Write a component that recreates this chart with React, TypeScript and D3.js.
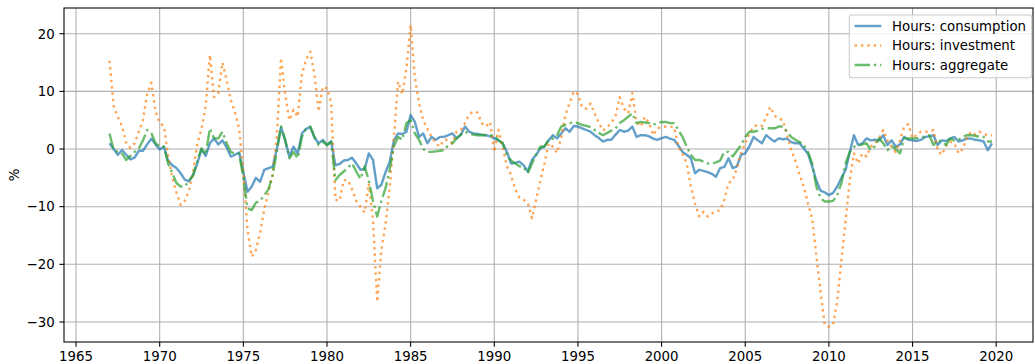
import { useEffect, useRef } from 'react'
import * as d3 from 'd3'

// quarterly, 1967Q1 .. 2019Q4 (4 values per row = one year)
const consumption = [
  1.0, 0.0, -1.0, -0.2,
  -1.0, -1.8, -1.5, -0.3,
  -0.3, 0.8, 1.8, 0.8,
  -0.1, 0.4, -2.0, -2.8,
  -3.3, -4.2, -5.3, -5.6,
  -4.5, -2.5, 0.0, -1.2,
  1.0, 1.85, 0.8, 1.5,
  0.3, -1.3, -1.0, -0.6,
  -4.0, -7.4, -6.5, -5.0,
  -5.7, -3.6, -3.3, -3.1,
  0.0, 3.8, 1.5, -1.3,
  0.4, -0.8, 2.7, 3.5,
  3.8, 2.0, 1.0, 1.6,
  0.7, 1.3, -2.8, -2.6,
  -2.0, -1.9, -1.5, -2.5,
  -3.6, -3.5, -0.75, -1.9,
  -6.8, -6.2, -4.0, -2.2,
  1.5, 2.7, 2.6, 3.0,
  5.9, 4.7, 2.1, 2.7,
  1.0, 2.1, 1.6, 2.1,
  2.1, 2.4, 2.7, 1.85,
  2.5, 3.9, 3.0, 2.7,
  2.6, 2.5, 2.4, 2.2,
  1.85, 1.5, 1.0, -0.5,
  -2.5, -2.4, -2.2, -2.8,
  -3.9, -1.9, -1.0, 0.1,
  0.5, 1.5, 2.4, 1.85,
  2.7, 3.6, 3.0, 4.0,
  3.9, 3.6, 3.3, 3.0,
  2.4, 1.9, 1.3, 1.6,
  1.6, 2.5, 3.3, 3.0,
  3.2, 3.9, 2.1, 2.4,
  2.4, 2.2, 1.8, 1.6,
  1.9, 2.1, 1.8, 1.6,
  0.6, -0.5, -1.0, -1.6,
  -4.2, -3.6, -3.8, -4.0,
  -4.3, -4.8, -3.3, -3.1,
  -1.6, -3.3, -3.0, -1.0,
  -0.75, 0.5, 2.1, 1.5,
  1.0, 2.4, 1.8, 1.3,
  1.85, 1.7, 1.8, 1.2,
  1.0, 1.0, 0.1, -0.8,
  -3.0, -5.5, -7.2, -7.5,
  -8.0, -7.6, -6.5, -5.0,
  -3.6, -0.5, 2.4, 0.7,
  1.0, 1.85, 1.5, 1.6,
  1.5, 2.4, 0.7, 1.5,
  0.4, 0.8, 2.1, 1.6,
  1.5, 1.4, 1.6, 2.1,
  2.2, 2.4, 0.7, 1.5,
  1.4, 1.8, 2.1, 1.3,
  1.5, 1.85, 1.8, 1.6,
  1.5, 1.3, -0.2, 1.0,
]

const investment = [
  15.3, 7.5, 5.5, 4.0,
  1.0, 0.2, 1.0, 3.0,
  5.0, 9.5, 11.5, 6.5,
  4.5, 4.0, -1.0, -5.0,
  -7.5, -9.7, -9.0, -7.2,
  -4.0, 1.0, 3.5, 7.5,
  16.3, 9.0, 9.7, 15.0,
  12.0, 8.5, 6.3, 3.5,
  -4.0, -14.0, -18.7, -17.5,
  -14.5, -10.5, -7.5, -4.5,
  2.0, 15.8, 9.5, 5.0,
  6.8, 5.6, 13.0, 15.5,
  16.9, 13.0, 6.5, 10.8,
  10.5, 8.0, -8.8, -9.0,
  -5.4, -5.4, -7.0, -9.0,
  -10.0, -11.0, -6.0, -12.3,
  -26.5, -17.5, -13.0, -6.5,
  2.0, 11.7, 9.5, 14.0,
  21.5, 12.5, 8.0, 5.0,
  3.5, 2.1, 1.0, 0.4,
  1.6, 1.6, 1.0, 3.0,
  3.3, 4.5, 6.0, 6.5,
  6.3, 4.5, 3.9, 4.7,
  -0.5, 3.3, 0.4, -3.0,
  -4.5, -7.0, -8.4, -8.8,
  -9.3, -12.0, -8.8, -5.5,
  -2.5, 1.0, 0.4, -0.7,
  2.0, 5.9, 8.0, 10.0,
  9.5, 7.2, 7.0, 7.9,
  6.2, 4.5, 3.2, 3.8,
  4.5, 5.8, 9.0, 7.0,
  6.2, 9.7, 4.7, 3.9,
  5.6, 4.5, 2.4, 3.6,
  3.8, 3.9, 3.9, 3.8,
  0.5, -0.8, -2.5, -6.5,
  -9.5, -11.7, -10.9, -11.7,
  -11.2, -10.8, -10.6, -8.8,
  -5.9, -5.4, -3.3, -0.75,
  1.0, 2.7, 3.9, 4.2,
  4.0, 5.5, 7.3, 5.8,
  5.3, 5.0, 2.5, -0.2,
  -2.0, -4.5, -6.5, -9.5,
  -12.0, -18.5, -24.7, -30.5,
  -30.8, -30.5, -26.3, -19.3,
  -12.3, -5.4, -0.75, -2.5,
  -0.75, -1.3, 0.4, 1.0,
  1.85, 3.3, 1.5, 0.4,
  -0.5, 1.5, 3.9, 4.3,
  1.85, 2.5, 3.0, 3.0,
  3.0, 3.3, -0.2, -1.0,
  0.5, 1.3, 1.0, -0.75,
  0.0, 2.0, 3.0, 2.5,
  3.0, 2.6, 2.4, 2.4,
]

const aggregate = [
  2.7, -0.2, -0.5, -0.8,
  -1.9, -1.2, -0.5, 0.1,
  1.5, 3.3, 2.8, 1.0,
  0.5, 0.4, -2.5, -4.2,
  -5.9, -6.5, -6.5, -5.5,
  -4.5, -2.0, 0.1, -1.0,
  3.6, 1.85, 1.85, 3.0,
  1.0, -0.5, -0.8, -0.8,
  -5.0, -10.3, -10.6, -9.3,
  -9.0, -8.0, -7.0, -4.5,
  -0.5, 3.9, 1.6, -1.6,
  -0.5, -1.6, 2.1, 3.5,
  3.9, 2.1, 0.7, 1.3,
  0.7, 1.3, -5.4, -4.5,
  -3.9, -3.2, -2.5, -3.9,
  -5.2, -3.0, -5.5, -9.0,
  -11.7, -9.0, -6.8, -3.5,
  0.5, 2.1, 1.6, 4.5,
  5.0, 2.7, 1.6, 0.0,
  -0.5, -0.5, -0.4, -0.3,
  -0.2, 0.7, 1.0, 1.85,
  2.5, 3.0, 2.7, 2.5,
  2.4, 2.4, 2.4, 2.4,
  2.4, 1.5, 1.0, -1.0,
  -2.0, -2.5, -3.0, -3.1,
  -4.2, -2.5, -1.0, 0.4,
  0.4, 1.6, 1.8, 2.4,
  3.9, 4.2, 4.5, 4.6,
  4.5, 4.2, 4.0, 3.8,
  3.3, 2.8, 2.4, 2.8,
  3.2, 3.6, 4.5, 5.0,
  5.6, 6.2, 4.5, 4.7,
  4.6, 4.5, 4.2, 4.5,
  4.7, 4.7, 4.5, 4.5,
  3.3, 2.1, 0.4, -1.0,
  -1.9, -1.9, -2.2, -2.5,
  -2.5, -2.3, -2.0, -0.5,
  -0.5, -1.3, -0.3, 0.7,
  2.1, 3.0, 3.0, 3.2,
  3.5, 3.6, 3.6, 3.6,
  3.9, 3.9, 3.0, 2.1,
  1.6, 1.2, 0.7, -0.5,
  -2.5, -6.5, -8.5, -9.1,
  -9.1, -9.0, -8.0, -5.9,
  -2.5, -0.5, 0.4, 0.6,
  0.8, 1.0, -0.2, 0.5,
  1.85, 1.0, -0.2, 0.5,
  0.0, -0.75, 1.85, 1.85,
  1.85, 1.85, 2.1, 2.1,
  2.4, 0.7, 1.5, 1.3,
  0.7, 1.85, 1.5, 1.6,
  2.1, 2.4, 2.4, 2.3,
  2.1, 2.1, 1.3, 1.3,
]

const startYear = 1967
const xTicks = [1965, 1970, 1975, 1980, 1985, 1990, 1995, 2000, 2005, 2010, 2015, 2020]
const yTicks = [-30, -20, -10, 0, 10, 20]
const labels = ['Hours: consumption', 'Hours: investment', 'Hours: aggregate']
const colors = ['#1f77b4', '#ff7f0e', '#2ca02c']

export default function App() {
  const svgRef = useRef<SVGSVGElement>(null)

  useEffect(() => {
    const width = 1035
    const height = 364
    const plot = { left: 64, right: 1033, top: 8, bottom: 342 }
    const font = 'DejaVu Sans, sans-serif'
    const fs = 13.33
    const lw = 2.4
    const dashes = [null, `${lw} ${lw * 1.65}`, `${lw * 6.4} ${lw * 1.6} ${lw} ${lw * 1.6}`]

    const svg = d3.select(svgRef.current)
      .attr('width', width)
      .attr('height', height)
    svg.selectAll('*').remove()

    const x = d3.scaleLinear().domain([1964.28, 2022.2]).range([plot.left, plot.right])
    const y = d3.scaleLinear().domain([-33.47, 24.46]).range([plot.bottom, plot.top])

    const g = svg.append('g')

    // grid
    g.selectAll('.gx').data(xTicks).join('line')
      .attr('x1', d => x(d)).attr('x2', d => x(d))
      .attr('y1', plot.top).attr('y2', plot.bottom)
      .attr('stroke', '#b0b0b0').attr('stroke-width', 1.07)
    g.selectAll('.gy').data(yTicks).join('line')
      .attr('y1', d => y(d)).attr('y2', d => y(d))
      .attr('x1', plot.left).attr('x2', plot.right)
      .attr('stroke', '#b0b0b0').attr('stroke-width', 1.07)

    // series
    const series = [consumption, investment, aggregate]
    const line = d3.line<number>()
      .x((_, i) => x(startYear + i / 4))
      .y(d => y(d))

    series.forEach((values, k) => {
      g.append('path')
        .datum(values)
        .attr('d', line)
        .attr('fill', 'none')
        .attr('stroke', colors[k])
        .attr('stroke-opacity', 0.7)
        .attr('stroke-width', lw)
        .attr('stroke-linejoin', 'round')
        .attr('stroke-dasharray', dashes[k])
    })

    // frame
    g.append('rect')
      .attr('x', plot.left).attr('y', plot.top)
      .attr('width', plot.right - plot.left).attr('height', plot.bottom - plot.top)
      .attr('fill', 'none').attr('stroke', '#000').attr('stroke-width', 1.07)

    // x ticks
    g.selectAll('.xt').data(xTicks).join('line')
      .attr('x1', d => x(d)).attr('x2', d => x(d))
      .attr('y1', plot.bottom).attr('y2', plot.bottom + 4.67)
      .attr('stroke', '#000').attr('stroke-width', 1.07)
    g.selectAll('.xl').data(xTicks).join('text')
      .attr('x', d => x(d)).attr('y', 361)
      .attr('text-anchor', 'middle')
      .attr('font-family', font).attr('font-size', fs)
      .text(d => d)

    // y ticks
    g.selectAll('.yt').data(yTicks).join('line')
      .attr('y1', d => y(d)).attr('y2', d => y(d))
      .attr('x1', plot.left - 4.67).attr('x2', plot.left)
      .attr('stroke', '#000').attr('stroke-width', 1.07)
    g.selectAll('.yl').data(yTicks).join('text')
      .attr('x', plot.left - 9.33).attr('y', d => y(d))
      .attr('dy', '0.36em')
      .attr('text-anchor', 'end')
      .attr('font-family', font).attr('font-size', fs)
      .text(d => (d < 0 ? '\u2212' + Math.abs(d) : String(d)))

    g.append('text')
      .attr('transform', `translate(18.5,${(plot.top + plot.bottom) / 2}) rotate(-90)`)
      .attr('text-anchor', 'middle')
      .attr('font-family', font).attr('font-size', fs)
      .text('%')

    // legend
    const lg = g.append('g')
    lg.append('rect')
      .attr('x', 849.3).attr('y', 15)
      .attr('width', 182.4).attr('height', 62.7)
      .attr('rx', 2.7)
      .attr('fill', '#fff').attr('fill-opacity', 0.8)
      .attr('stroke', '#cccccc').attr('stroke-width', 1.07)
    labels.forEach((label, k) => {
      const cy = 26 + k * 19.5
      lg.append('line')
        .attr('x1', 854.6).attr('x2', 881.3)
        .attr('y1', cy).attr('y2', cy)
        .attr('stroke', colors[k])
        .attr('stroke-opacity', 0.7)
        .attr('stroke-width', lw)
        .attr('stroke-dasharray', dashes[k])
      lg.append('text')
        .attr('x', 892).attr('y', cy)
        .attr('dy', '0.36em')
        .attr('font-family', font).attr('font-size', fs)
        .text(label)
    })
  }, [])

  return (
    <svg ref={svgRef} style={{ position: 'absolute', left: 0, top: 0, display: 'block' }}></svg>
  )
}
